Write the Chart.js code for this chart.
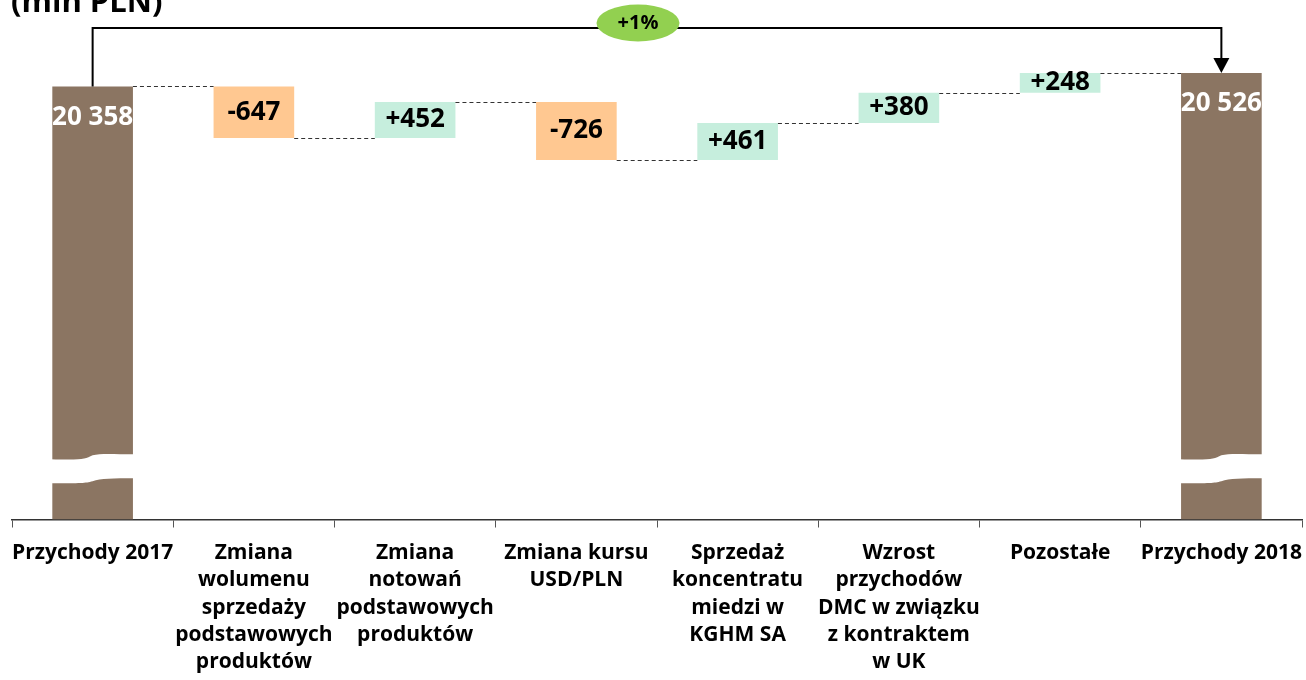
<!DOCTYPE html>
<html>
<head>
<meta charset="utf-8">
<script src="https://cdn.jsdelivr.net/npm/chart.js@4/dist/chart.umd.min.js"></script>
<style>
  html, body { margin: 0; padding: 0; background: #fff; overflow: hidden; }
  #wrap { width: 1306px; height: 688px; position: relative; }
</style>
</head>
<body>
<div id="wrap"><canvas id="chart"></canvas></div>
<script>
const categories = [
  "Przychody 2017",
  ["Zmiana", "wolumenu", "sprzedaży", "podstawowych", "produktów"],
  ["Zmiana", "notowań", "podstawowych", "produktów"],
  ["Zmiana kursu", "USD/PLN"],
  ["Sprzedaż", "koncentratu", "miedzi w", "KGHM SA"],
  ["Wzrost", "przychodów", "DMC w związku", "z kontraktem", "w UK"],
  "Pozostałe",
  "Przychody 2018",
];
const startValue = 20358;
const deltas = [-647, 452, -726, 461, 380, 248];
const endValue = 20526;
const changeLabel = "+1%";
const axisMin = 14930;
const axisMax = 21065;
const breakValue = 15560;

const colTotal = "#8B7562";
const colDown = "#FFC891";
const colUp = "#C6EEDD";

// build floating bars
const ranges = [[axisMin, startValue]];
const colors = [colTotal];
const levels = [startValue];
let run = startValue;
deltas.forEach((d) => {
  ranges.push([run, run + d]);
  colors.push(d < 0 ? colDown : colUp);
  run += d;
  levels.push(run);
});
ranges.push([axisMin, endValue]);
colors.push(colTotal);

function fmt(v) {
  return String(v).replace(/\B(?=(\d{3})+(?!\d))/g, " ");
}
const valueLabels = [fmt(startValue)]
  .concat(deltas.map((d) => (d > 0 ? "+" + d : String(d))))
  .concat([fmt(endValue)]);

const FONT = "'Open Sans', 'Noto Sans', sans-serif";

const decor = {
  id: "decor",
  afterDatasetsDraw(chart) {
    const ctx = chart.ctx;
    const y = chart.scales.y;
    const bars = chart.getDatasetMeta(0).data;
    const area = chart.chartArea;
    ctx.save();

    // dashed connectors
    ctx.strokeStyle = "#333";
    ctx.lineWidth = 1;
    ctx.setLineDash([4, 3]);
    for (let i = 0; i < bars.length - 1; i++) {
      const a = bars[i], b = bars[i + 1];
      const yy = Math.round(y.getPixelForValue(levels[i])) + 0.5;
      ctx.beginPath();
      ctx.moveTo(a.x + a.width / 2, yy);
      ctx.lineTo(b.x - b.width / 2, yy);
      ctx.stroke();
    }
    ctx.setLineDash([]);

    // axis break on total bars
    [0, bars.length - 1].forEach((i) => {
      const b = bars[i];
      const cy = y.getPixelForValue(breakValue);
      const l = b.x - b.width / 2 - 2, r = b.x + b.width / 2 + 2;
      const m = b.x;
      ctx.fillStyle = "#fff";
      ctx.beginPath();
      ctx.moveTo(l, cy - 10);
      ctx.bezierCurveTo(m - 10, cy - 9, m - 8, cy - 10, m, cy - 14);
      ctx.bezierCurveTo(m + 8, cy - 16, m + 20, cy - 15, r, cy - 15);
      ctx.lineTo(r, cy + 9);
      ctx.bezierCurveTo(m + 20, cy + 9, m + 8, cy + 9, m, cy + 12);
      ctx.bezierCurveTo(m - 8, cy + 14, m - 10, cy + 14, l, cy + 14);
      ctx.closePath();
      ctx.fill();
    });

    // value labels
    ctx.textAlign = "center";
    ctx.textBaseline = "middle";
    bars.forEach((b, i) => {
      const total = i === 0 || i === bars.length - 1;
      if (total) {
        ctx.fillStyle = "#fff";
        ctx.font = "bold 26px " + FONT;
        ctx.fillText(valueLabels[i], b.x, b.y + 31);
      } else {
        ctx.fillStyle = "#000";
        ctx.font = "bold 26px " + FONT;
        ctx.fillText(valueLabels[i], b.x, (b.y + b.base) / 2);
      }
    });

    // bracket with arrow
    const first = bars[0], last = bars[bars.length - 1];
    const topY = area.top - 2;
    ctx.strokeStyle = "#000";
    ctx.lineWidth = 2;
    ctx.beginPath();
    ctx.moveTo(first.x, first.y);
    ctx.lineTo(first.x, topY);
    ctx.lineTo(last.x, topY);
    ctx.lineTo(last.x, last.y - 14);
    ctx.stroke();
    ctx.fillStyle = "#000";
    ctx.beginPath();
    ctx.moveTo(last.x - 8, last.y - 15);
    ctx.lineTo(last.x + 8, last.y - 15);
    ctx.lineTo(last.x, last.y);
    ctx.closePath();
    ctx.fill();

    // change ellipse
    const ex = (first.x + last.x) / 2 - 19;
    ctx.fillStyle = "#92D050";
    ctx.beginPath();
    ctx.ellipse(ex, topY - 5, 41.5, 18.5, 0, 0, Math.PI * 2);
    ctx.fill();
    ctx.fillStyle = "#000";
    ctx.font = "bold 20px " + FONT;
    ctx.fillText(changeLabel, ex, topY - 5);

    // unit title (cut at top)
    ctx.textAlign = "left";
    ctx.textBaseline = "alphabetic";
    ctx.font = "bold 31px " + FONT;
    ctx.fillText("(mln PLN)", 11, 12);

    ctx.restore();
  },
};

new Chart(document.getElementById("chart"), {
  type: "bar",
  data: {
    labels: categories,
    datasets: [{
      data: ranges,
      backgroundColor: colors,
      borderWidth: 0,
      barPercentage: 0.5,
      categoryPercentage: 1,
    }],
  },
  options: {
    responsive: true,
    maintainAspectRatio: false,
    animation: false,
    layout: { padding: { top: 30, left: 12, right: 4, bottom: 0 } },
    plugins: { legend: { display: false }, tooltip: { enabled: false } },
    scales: {
      x: {
        afterFit(scale) {
          // keep the axis full width, labels may overhang a little
          scale.paddingLeft = 0;
          scale.paddingRight = 0;
        },
        grid: {
          offset: true,
          drawOnChartArea: false,
          drawTicks: true,
          tickLength: 8,
          color: "#555",
        },
        border: { color: "#333", width: 1.5 },
        ticks: {
          color: "#000",
          font: { family: FONT, size: 21, weight: "bold", lineHeight: 1.3 },
          maxRotation: 0,
          autoSkip: false,
          padding: 12,
        },
      },
      y: {
        display: false,
        min: axisMin,
        max: axisMax,
      },
    },
  },
  plugins: [decor],
});
</script>
</body>
</html>
